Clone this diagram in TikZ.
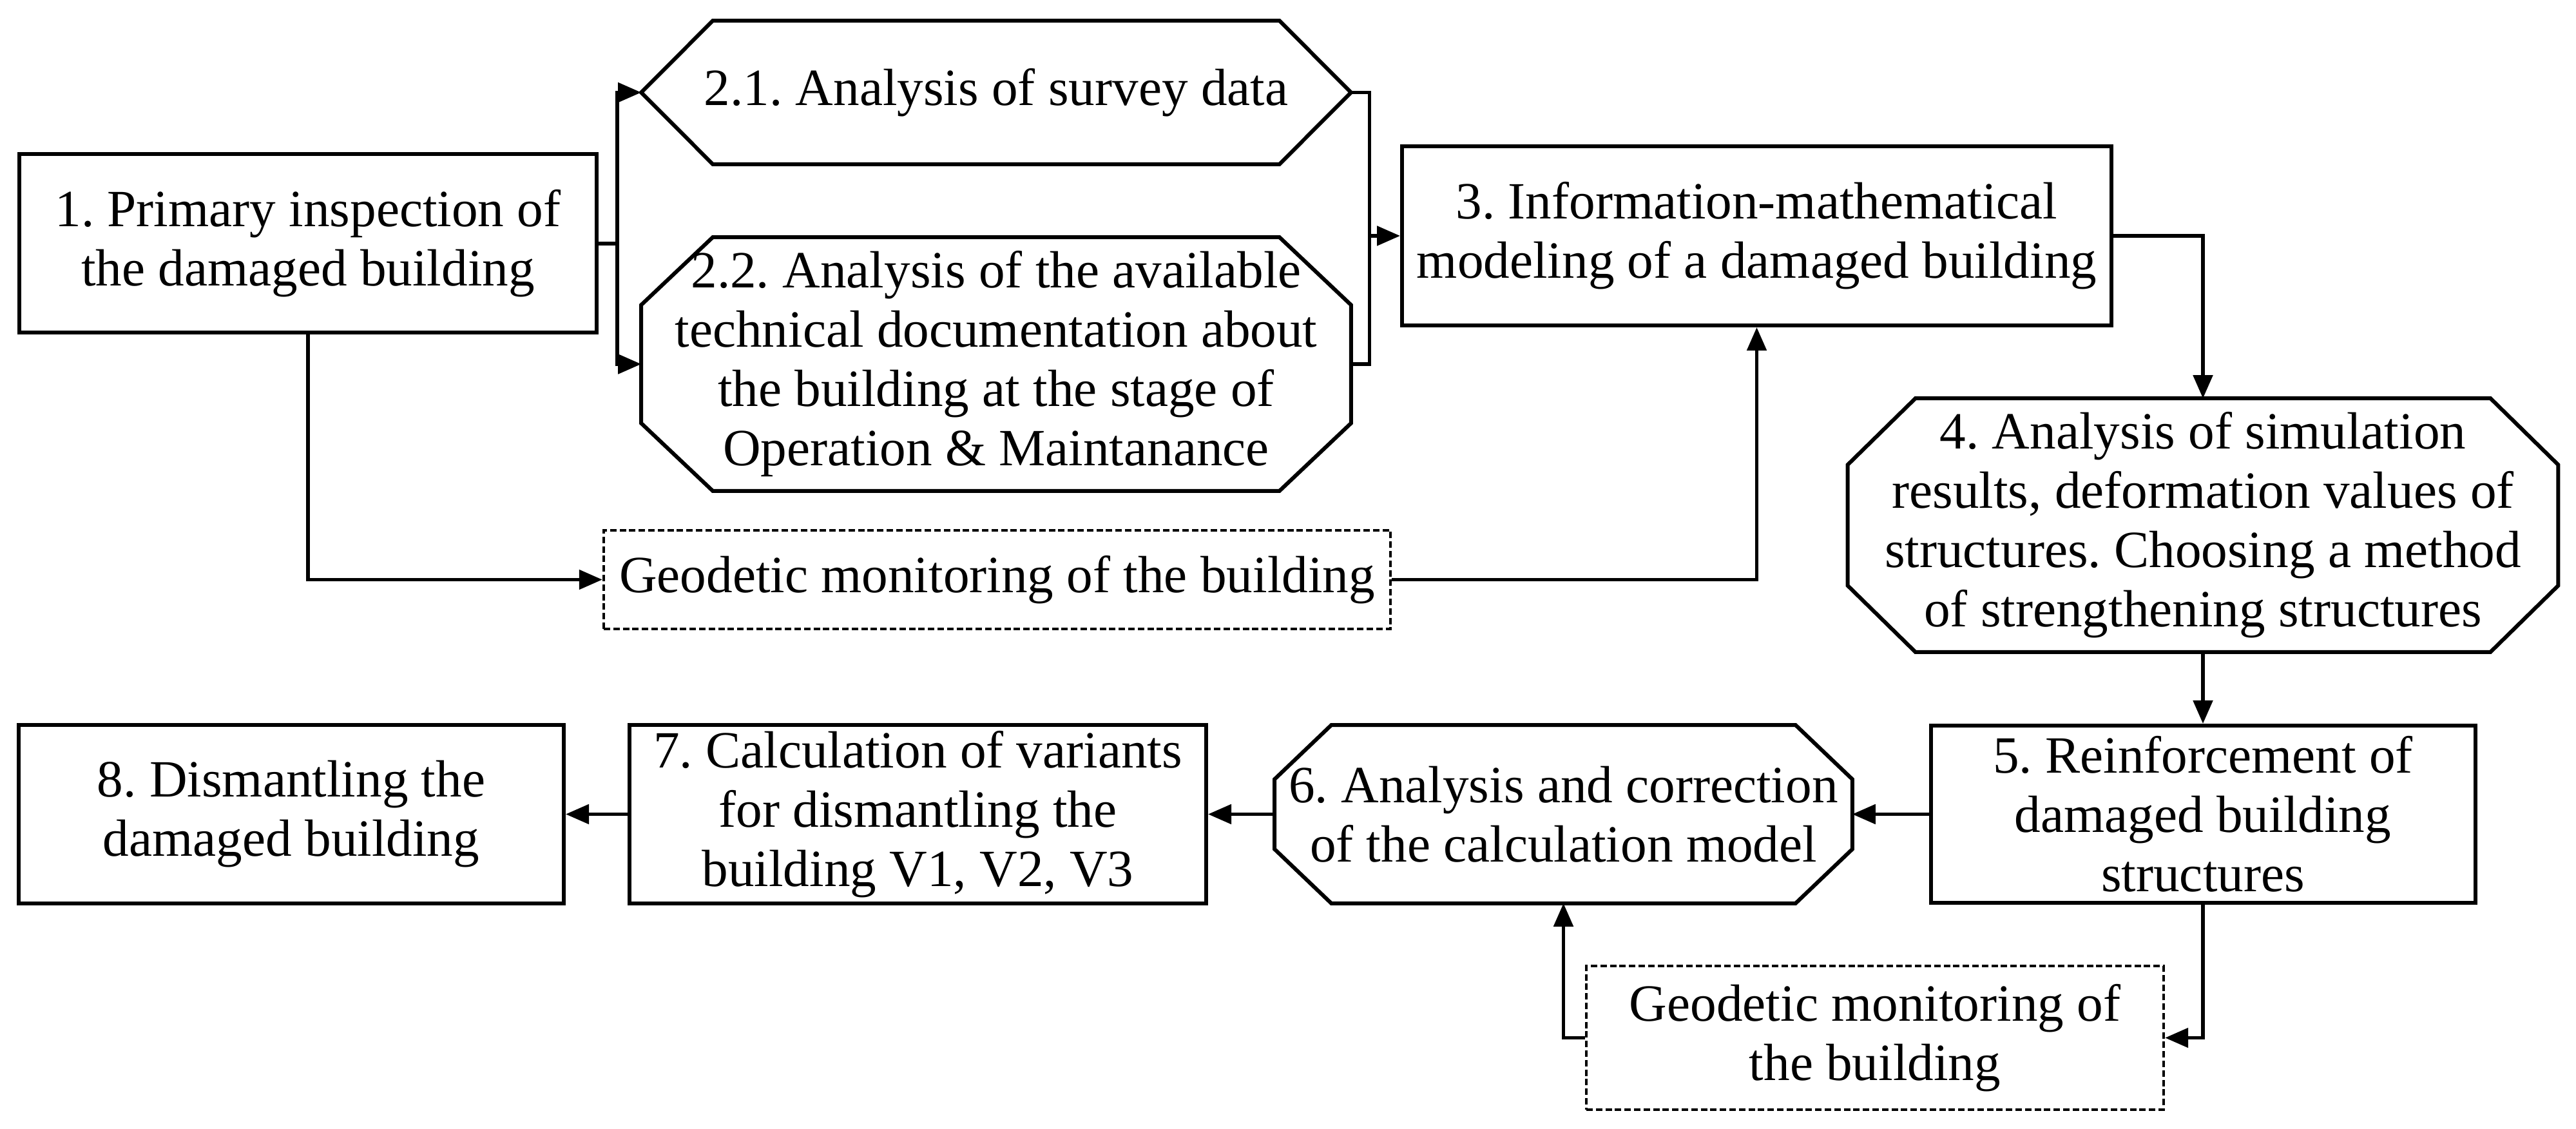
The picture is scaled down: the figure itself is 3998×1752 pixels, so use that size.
\documentclass[tikz,border=0pt]{standalone}
\usepackage{fontspec}
\setmainfont{Liberation Serif}
\usetikzlibrary{arrows.meta,calc}
\tikzset{
 base/.style={inner sep=0pt, align=center, font=\fontsize{20.3}{23}\selectfont\frenchspacing},
 rbox/.style={base, draw, line width=1.5pt, rectangle},
 shp/.style={base, rectangle},
 geo/.style={base, draw, line width=1.1pt, dash pattern=on 2.5pt off 1.2pt},
 arr/.style={line width=1.3pt, -{Triangle[length=9pt,width=7.5pt]}},
 ln/.style={line width=1.3pt},
 outline/.style={line width=1.5pt, line join=miter}
}
\newcommand\drawocto[3]{\draw[outline] ($(#1.north west)+(#2,0)$) -- ($(#1.north east)+(-#2,0)$) -- ($(#1.north east)+(0,#3)$) -- ($(#1.south east)+(0,-#3)$) -- ($(#1.south east)+(-#2,0)$) -- ($(#1.south west)+(#2,0)$) -- ($(#1.south west)+(0,-#3)$) -- ($(#1.north west)+(0,#3)$) -- cycle;}
\newcommand\drawhexa[2]{\draw[outline] ($(#1.north west)+(#2,0)$) -- ($(#1.north east)+(-#2,0)$) -- (#1.east) -- ($(#1.south east)+(-#2,0)$) -- ($(#1.south west)+(#2,0)$) -- (#1.west) -- cycle;}
\begin{document}
\begin{tikzpicture}[x=0.25pt,y=-0.25pt]
\useasboundingbox[fill=white] (0,0) rectangle (3998,1752);
% nodes
\node[rbox, minimum width=224pt, minimum height=69.25pt] (n1) at (478,378) {1. Primary inspection of\\the damaged building};
\node[shp, minimum width=275pt, minimum height=55.25pt] (n21) at (1546,143.5) {2.1. Analysis of survey data};
\node[shp, minimum width=275pt, minimum height=98pt] (n22) at (1546,565) {2.2. Analysis of the available\\technical documentation about\\the building at the stage of\\Operation \& Maintanance};
\node[rbox, minimum width=275.25pt, minimum height=69.5pt] (n3) at (2726.5,366) {3. Information-mathematical\\modeling of a damaged building};
\node[geo, minimum width=305.25pt, minimum height=38.25pt] (g1) at (1547.5,899.5) {Geodetic monitoring of the building};
\node[shp, minimum width=275.25pt, minimum height=98pt] (n4) at (3419,815) {4. Analysis of simulation\\results, deformation values of\\structures. Choosing a method\\of strengthening structures};
\node[rbox, minimum width=211.25pt, minimum height=68.75pt] (n5) at (3419,1263.5) {5. Reinforcement of\\damaged building\\structures};
\node[shp, minimum width=223.75pt, minimum height=68.75pt] (n6) at (2426.5,1263.5) {6. Analysis and correction\\of the calculation model};
\node[rbox, minimum width=223.75pt, minimum height=69.25pt] (n7) at (1424.5,1263.5) {7. Calculation of variants\\for dismantling the\\building V1, V2, V3};
\node[rbox, minimum width=211.5pt, minimum height=69.25pt] (n8) at (452,1263.5) {8. Dismantling the\\damaged building};
\node[geo, minimum width=224pt, minimum height=55.75pt] (g2) at (2910,1610.5) {Geodetic monitoring of\\the building};
% outlines
\drawhexa{n21}{111}
\drawocto{n22}{111}{105}
\drawocto{n4}{105}{103}
\drawocto{n6}{88}{84}
% connectors
\coordinate (j1) at ($(n1.east)+(29,0)$);
\draw[ln] (n1.east) -- (j1);
\draw[arr] (j1) |- (n21.west);
\draw[arr] (j1) |- (n22.west);
\coordinate (j2) at ($(n21.east)+(29,0)$);
\draw[ln] (n21.east) -- (j2) |- (n22.east);
\draw[arr] (j2 |- n3.west) -- (n3.west);
\draw[arr] (n1.south) |- (g1.west);
\draw[arr] (g1.east) -| (n3.south);
\draw[arr] (n3.east) -| (n4.north);
\draw[arr] (n4.south) -- (n5.north);
\draw[arr] (n5.west) -- (n6.east);
\draw[arr] (n6.west) -- (n7.east);
\draw[arr] (n7.west) -- (n8.east);
\draw[arr] (n5.south) |- (g2.east);
\draw[arr] (g2.west) -| (n6.south);
\end{tikzpicture}
\end{document}
